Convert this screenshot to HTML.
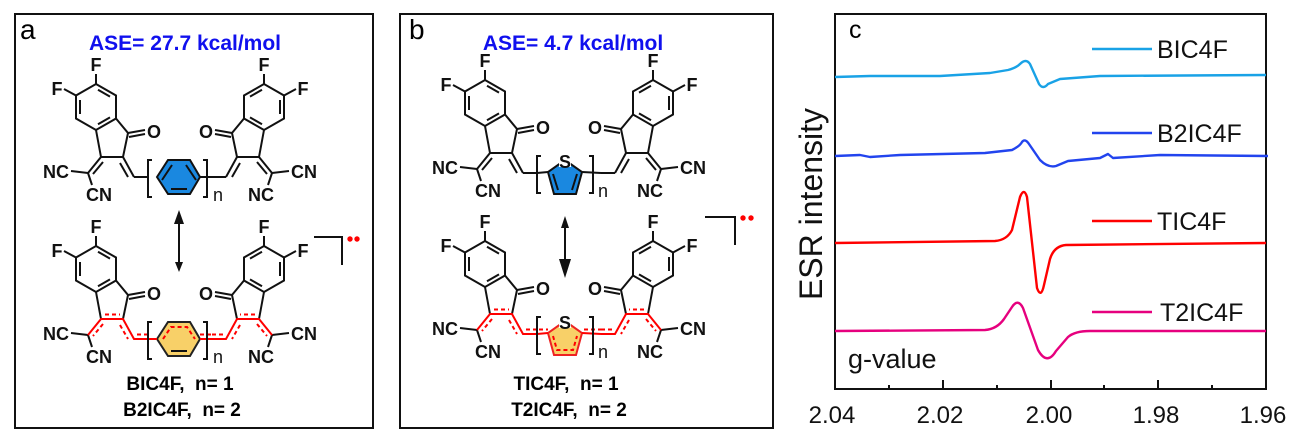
<!DOCTYPE html>
<html><head><meta charset="utf-8"><style>
html,body{margin:0;padding:0;background:#fff;}
svg{display:block;font-family:"Liberation Sans",Arial,sans-serif;}
.b{font-weight:bold;}
</style></head><body>
<svg width="1299" height="441" viewBox="0 0 1299 441" xmlns="http://www.w3.org/2000/svg">
<defs>
<g id="L" fill="none" stroke="#111" stroke-width="2">
  <polygon points="96,84 116,95.5 116,118.5 96,130 76,118.5 76,95.5"/>
  <line x1="98" y1="89.7" x2="110" y2="96.6"/>
  <line x1="80" y1="114" x2="80" y2="100"/>
  <line x1="110" y1="117.4" x2="98" y2="124.3"/>
  <line x1="96" y1="84" x2="96" y2="74"/>
  <line x1="76" y1="95.5" x2="64" y2="89"/>
  <polyline points="116,118.5 128,133 123,157 101,157 96,130"/>
  <line x1="128" y1="133" x2="145" y2="130"/>
  <line x1="129" y1="137" x2="145" y2="134"/>
  <line x1="101" y1="157" x2="88" y2="173"/>
  <line x1="103" y1="162" x2="93" y2="174"/>
  <line x1="88" y1="173" x2="71" y2="171"/>
  <line x1="88" y1="173" x2="92" y2="185"/>
  <line x1="123" y1="157" x2="134" y2="177"/>
  <line x1="120" y1="163" x2="128" y2="177"/>
  <line x1="134" y1="177" x2="148" y2="177"/>
</g>
<g id="LB" fill="none" stroke-width="2">
  <g stroke="#111">
  <polygon points="96,84 116,95.5 116,118.5 96,130 76,118.5 76,95.5"/>
  <line x1="98" y1="89.7" x2="110" y2="96.6"/>
  <line x1="80" y1="114" x2="80" y2="100"/>
  <line x1="110" y1="117.4" x2="98" y2="124.3"/>
  <line x1="96" y1="84" x2="96" y2="74"/>
  <line x1="76" y1="95.5" x2="64" y2="89"/>
  <polyline points="116,118.5 128,133 123,157"/>
  <line x1="101" y1="157" x2="96" y2="130"/>
  <line x1="128" y1="133" x2="145" y2="130"/>
  <line x1="129" y1="137" x2="145" y2="134"/>
  <line x1="88" y1="173" x2="71" y2="171"/>
  <line x1="88" y1="173" x2="92" y2="185"/>
  </g>
  <g stroke="#f00">
  <polyline points="88,173 101,157 123,157 134,177 148,177"/>
  <g stroke-dasharray="4,3">
  <line x1="103" y1="162" x2="93" y2="174"/>
  <line x1="105" y1="152.5" x2="120" y2="152.5"/>
  <line x1="120" y1="163" x2="128" y2="177"/>
  <line x1="137" y1="172.5" x2="148" y2="172.5"/>
  </g></g>
</g>
</defs>

<!-- panel a -->
<rect x="15" y="14" width="358" height="414" fill="none" stroke="#111" stroke-width="2"/>
<text x="20" y="39" font-size="28">a</text>
<text x="185" y="50" font-size="21" fill="#1010ee" class="b" text-anchor="middle">ASE= 27.7 kcal/mol</text>
<use href="#L"/>
<use href="#L" transform="translate(360,0) scale(-1,1)"/>
<polygon points="157,177 168,160 190,160 200,177 190,194 168,194" fill="#1a88e0" stroke="#111" stroke-width="2"/>
<g stroke="#111" stroke-width="2" fill="none">
<line x1="172" y1="165" x2="162" y2="180" /><line x1="186" y1="165" x2="196" y2="180"/><line x1="171" y1="189" x2="187" y2="189"/>
<path d="M152,160 h-4 v37 h4"/><path d="M203,160 h4 v37 h-4"/>
<line x1="200" y1="177" x2="212" y2="177"/>
</g>
<g font-size="18" class="b" fill="#111" text-anchor="middle">
<text x="96" y="71">F</text><text x="57" y="95">F</text><text x="154" y="138">O</text>
<text x="56" y="178">NC</text><text x="99" y="201">CN</text>
<text x="264" y="71">F</text><text x="303" y="95">F</text><text x="206" y="138">O</text>
<text x="304" y="178">CN</text><text x="261" y="201">NC</text>
<text x="218" y="201" font-weight="normal">n</text>
</g>
<line x1="179" y1="222" x2="179" y2="262" stroke="#111" stroke-width="2"/>
<polygon points="179,210 174,224 184,224" fill="#111"/>
<polygon points="179,272 175,262 183,262" fill="#111"/>
<g transform="translate(0,162)">
<use href="#LB"/>
<use href="#LB" transform="translate(360,0) scale(-1,1)"/>
<polygon points="157,177 168,160 190,160 200,177 190,194 168,194" fill="#f8d068" stroke="#222" stroke-width="2"/>
<g stroke-width="2" fill="none">
<path d="M163,177 L171,165 H187 L195,177" stroke="#f00" stroke-dasharray="4,3"/>
<line x1="171" y1="189" x2="187" y2="189" stroke="#111"/>
<line x1="147" y1="177" x2="157" y2="177" stroke="#f00"/>
<line x1="200" y1="177" x2="212" y2="177" stroke="#f00"/>
<line x1="200" y1="172.5" x2="212" y2="172.5" stroke="#f00" stroke-dasharray="4,3"/>
<path d="M152,160 h-4 v37 h4" stroke="#111"/><path d="M203,160 h4 v37 h-4" stroke="#111"/>
</g>
<g font-size="18" class="b" fill="#111" text-anchor="middle">
<text x="96" y="71">F</text><text x="57" y="95">F</text><text x="154" y="138">O</text>
<text x="56" y="178">NC</text><text x="99" y="201">CN</text>
<text x="264" y="71">F</text><text x="303" y="95">F</text><text x="206" y="138">O</text>
<text x="304" y="178">CN</text><text x="261" y="201">NC</text>
<text x="218" y="201" font-weight="normal">n</text>
</g>
</g>
<path d="M314,237 H342 V265" fill="none" stroke="#111" stroke-width="2"/>
<circle cx="350" cy="239" r="2.7" fill="#f00"/><circle cx="357" cy="239" r="2.7" fill="#f00"/>
<text x="180" y="390" font-size="19" class="b" text-anchor="middle">BIC4F,&#160; n= 1</text>
<text x="182" y="416" font-size="19" class="b" text-anchor="middle">B2IC4F,&#160; n= 2</text>

<!-- panel b -->
<rect x="400" y="14" width="373" height="414" fill="none" stroke="#111" stroke-width="2"/>
<text x="409" y="39" font-size="28">b</text>
<text x="573" y="50" font-size="21" fill="#1010ee" class="b" text-anchor="middle">ASE= 4.7 kcal/mol</text>
<g transform="translate(389,-4)">
<use href="#L"/>
<use href="#L" transform="translate(360,0) scale(-1,1)"/>
<polygon points="176,164 193,176 187,198 165,198 159,176" fill="#1a88e0" stroke="#111" stroke-width="2"/>
<g stroke="#111" stroke-width="2" fill="none">
<line x1="164" y1="178" x2="169" y2="194"/><line x1="188" y1="178" x2="183" y2="194"/>
<path d="M152,160 h-4 v37 h4"/><path d="M200,160 h4 v37 h-4"/>
<line x1="148" y1="177" x2="159" y2="176"/><line x1="193" y1="176" x2="212" y2="177"/>
</g>
<rect x="170" y="157" width="12" height="14" fill="#fff"/>
<g font-size="18" class="b" fill="#111" text-anchor="middle">
<text x="176" y="172">S</text>
<text x="96" y="71">F</text><text x="57" y="95">F</text><text x="154" y="138">O</text>
<text x="56" y="178">NC</text><text x="99" y="201">CN</text>
<text x="264" y="71">F</text><text x="303" y="95">F</text><text x="206" y="138">O</text>
<text x="304" y="178">CN</text><text x="261" y="201">NC</text>
<text x="214" y="201" font-weight="normal">n</text>
</g>
</g>
<line x1="565" y1="226" x2="565" y2="262" stroke="#111" stroke-width="2"/>
<polygon points="565,216 561,228 569,228" fill="#111"/>
<polygon points="565,278 559,259 571,259" fill="#111"/>
<g transform="translate(389,157)">
<use href="#LB"/>
<use href="#LB" transform="translate(360,0) scale(-1,1)"/>
<polygon points="176,164 193,176 187,198 165,198 159,176" fill="#f8d068" stroke="#e22" stroke-width="2"/>
<path d="M164,179 L168,193 H184 L188,179" fill="none" stroke="#f00" stroke-width="2" stroke-dasharray="4,3"/>
<g stroke-width="2" fill="none">
<line x1="148" y1="177" x2="159" y2="176" stroke="#f00"/><line x1="193" y1="176" x2="212" y2="177" stroke="#f00"/>
<line x1="150" y1="172.5" x2="159" y2="172.5" stroke="#f00" stroke-dasharray="4,3"/>
<line x1="195" y1="172.5" x2="212" y2="172.5" stroke="#f00" stroke-dasharray="4,3"/>
<path d="M152,160 h-4 v37 h4" stroke="#111"/><path d="M200,160 h4 v37 h-4" stroke="#111"/>
</g>
<rect x="170" y="157" width="12" height="14" fill="#fff"/>
<g font-size="18" class="b" fill="#111" text-anchor="middle">
<text x="176" y="172">S</text>
<text x="96" y="71">F</text><text x="57" y="95">F</text><text x="154" y="138">O</text>
<text x="56" y="178">NC</text><text x="99" y="201">CN</text>
<text x="264" y="71">F</text><text x="303" y="95">F</text><text x="206" y="138">O</text>
<text x="304" y="178">CN</text><text x="261" y="201">NC</text>
<text x="214" y="201" font-weight="normal">n</text>
</g>
</g>
<path d="M705,217 H735 V245" fill="none" stroke="#111" stroke-width="2"/>
<circle cx="743" cy="218" r="2.7" fill="#f00"/><circle cx="751" cy="218" r="2.7" fill="#f00"/>
<text x="566" y="390" font-size="19" class="b" text-anchor="middle">TIC4F,&#160; n= 1</text>
<text x="569" y="416" font-size="19" class="b" text-anchor="middle">T2IC4F,&#160; n= 2</text>

<!-- panel c -->
<rect x="835" y="14" width="431" height="375" fill="none" stroke="#111" stroke-width="2"/>
<g stroke="#111" stroke-width="2">
<line x1="943" y1="389" x2="943" y2="380"/><line x1="1051" y1="389" x2="1051" y2="380"/><line x1="1158" y1="389" x2="1158" y2="380"/>
<line x1="889" y1="389" x2="889" y2="385"/><line x1="997" y1="389" x2="997" y2="385"/><line x1="1104" y1="389" x2="1104" y2="385"/><line x1="1212" y1="389" x2="1212" y2="385"/>
</g>
<text x="849" y="38" font-size="25">c</text>
<g fill="none" stroke-width="2.4" stroke-linejoin="round">
<path stroke="#19a2e6" d="M835,77 L870,76 L940,76 L990,73 L1008,70 Q1016,68 1020,64 Q1026,58 1030,64 L1039,84 Q1043,90 1048,84 L1060,79 L1100,76 L1266,75"/>
<path stroke="#2244ee" d="M835,156 L860,155 L870,157 L900,155 L985,153 L1012,150 Q1020,146 1022,142 Q1025,138 1029,144 L1040,160 Q1048,168 1056,166 L1068,161 L1100,158 L1108,154 L1113,158 L1160,155 L1268,156"/>
<path stroke="#ff0000" d="M835,243 L995,241 Q1007,240 1012,230 L1020,197 Q1024,187 1027,197 L1037,288 Q1041,299 1044,285 L1050,259 Q1054,246 1066,245 L1266,243"/>
<path stroke="#e6007e" d="M835,331 L985,330 Q997,329 1004,319 L1012,307 Q1018,298 1023,308 L1038,350 Q1047,366 1056,351 L1068,337 Q1075,331 1090,331 L1266,331"/>
<line x1="1092" y1="49" x2="1152" y2="49" stroke="#19a2e6"/>
<line x1="1092" y1="133" x2="1152" y2="133" stroke="#2244ee"/>
<line x1="1092" y1="221" x2="1152" y2="221" stroke="#ff0000"/>
<line x1="1092" y1="312" x2="1152" y2="312" stroke="#e6007e"/>
</g>
<g font-size="25" fill="#111">
<text x="1157" y="58">BIC4F</text>
<text x="1157" y="142">B2IC4F</text>
<text x="1157" y="230">TIC4F</text>
<text x="1160" y="321">T2IC4F</text>
<text x="848" y="368" font-size="27">g-value</text>
</g>
<text transform="translate(822,204) rotate(-90)" font-size="32" text-anchor="middle" fill="#111">ESR intensity</text>
<g font-size="24" text-anchor="middle" fill="#111">
<text x="832" y="423">2.04</text><text x="940" y="423">2.02</text><text x="1049" y="423">2.00</text><text x="1156" y="423">1.98</text><text x="1263" y="423">1.96</text>
</g>
</svg>
</body></html>
